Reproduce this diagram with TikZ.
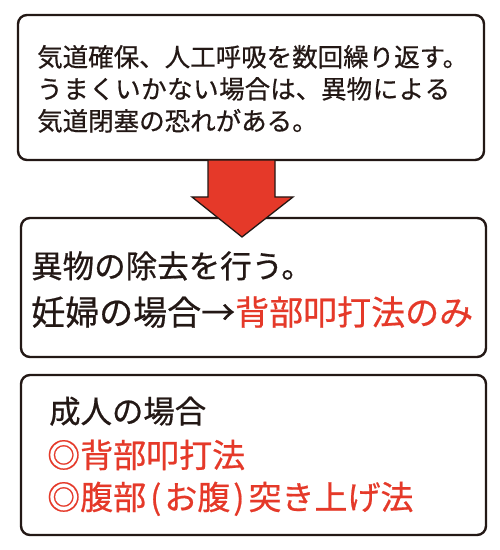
\documentclass[tikz,border=0pt]{standalone}
\usepackage{fontspec}
\setmainfont{Noto Sans CJK JP}[FakeBold=0.6]
\definecolor{myred}{RGB}{229,57,41}
\definecolor{myline}{RGB}{35,24,21}
\newcommand{\lp}{\kern4pt(\kern3pt}
\newcommand{\rp}{\kern3pt)\kern4pt}
\begin{document}
\begin{tikzpicture}[x=1pt,y=1pt,
  box/.style={draw=myline,line width=2.4pt,rounded corners=9pt,fill=white,inner sep=0pt},
  txt/.style={inner sep=0pt,anchor=base west,text=myline},
  arrowshape/.style={draw=myline,line width=1.3pt,fill=myred,line join=miter}]
\fill[white] (0,0) rectangle (500,550);
\useasboundingbox (0,0) rectangle (500,550);
% boxes (y = 550 - image y)
\node[box,minimum width=466pt,minimum height=145pt] (b1) at (251,462.5) {};
\node[box,minimum width=465pt,minimum height=139pt] (b2) at (253.5,262.5) {};
\node[box,minimum width=465pt,minimum height=160pt] (b3) at (253.5,95) {};
% arrow
\draw[arrowshape] (208,390) -- (275,390) -- (275,353) -- (293,353) -- (242,313)
  -- (192,353) -- (208,353) -- cycle;
% box 1 text
\node[txt,font=\fontsize{25.5}{32}\selectfont] (t11) at (37,483.5) {気道確保、人工呼吸を数回繰り返す。};
\node[txt,font=\fontsize{25.5}{32}\selectfont] (t12) at (37,451.5) {う\kern0.5ptま\kern0.5ptく\kern0.5ptい\kern0.5ptか\kern0.5ptな\kern0.5ptい\kern0.5pt場合は、異物\kern0.5ptに\kern0.5ptよ\kern0.5ptる};
\node[txt,font=\fontsize{25.5}{32}\selectfont] (t13) at (37,419.5) {気道閉塞の恐れがある。};
% box 2 text
\node[txt,font=\fontsize{31.5}{36}\selectfont] (t21) at (31,272.2) {異物の除去を行う。};
\node[txt,font=\fontsize{34}{40}\selectfont] (t22) at (31,225) {妊婦の場合→\textcolor{myred}{背部叩打法のみ}};
% box 3 text
\node[txt,font=\fontsize{31.4}{36}\selectfont] (t31) at (49,127) {成人の場合};
\node[txt,font=\fontsize{33}{38}\selectfont,text=myred] (t32) at (47,82.5) {◎背部叩打法};
\node[txt,font=\fontsize{33}{38}\selectfont,text=myred] (t33) at (47,40.5) {◎腹部\lp お腹\rp 突き上げ法};
\end{tikzpicture}
\end{document}
